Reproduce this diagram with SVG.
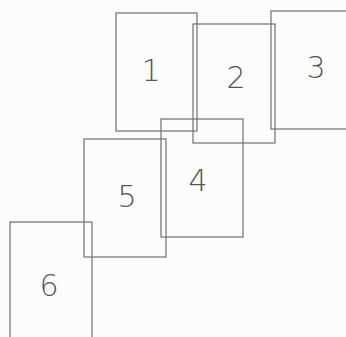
<svg xmlns="http://www.w3.org/2000/svg" width="346" height="337" viewBox="0 0 346 337">
<style>
.box{fill:none;stroke:#6e6e6e;stroke-width:1.2}
.lbl{font-family:"DejaVu Sans","Liberation Sans",sans-serif;font-size:30px;font-weight:200;fill:#555;text-anchor:middle;dominant-baseline:central}
</style>
<rect width="346" height="337" fill="#fcfcfc"/>
<g id="connectors"></g>
<g id="node1"><rect class="box" x="116" y="13" width="81" height="118"/><text class="lbl" x="151" y="70">1</text></g>
<g id="node2"><rect class="box" x="193" y="24" width="82" height="119"/><text class="lbl" x="236" y="77">2</text></g>
<g id="node3"><rect class="box" x="271" y="11" width="82" height="118"/><text class="lbl" x="316" y="67">3</text></g>
<g id="node4"><rect class="box" x="161" y="119" width="82" height="118"/><text class="lbl" x="198" y="180">4</text></g>
<g id="node5"><rect class="box" x="84" y="139" width="82" height="118"/><text class="lbl" x="127" y="196">5</text></g>
<g id="node6"><rect class="box" x="10" y="222" width="82" height="118"/><text class="lbl" x="49" y="285">6</text></g>
</svg>
